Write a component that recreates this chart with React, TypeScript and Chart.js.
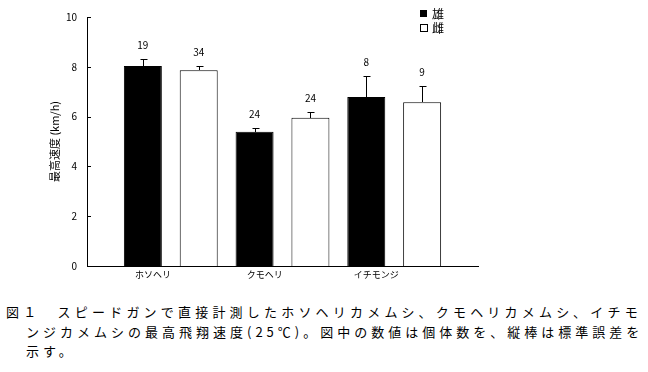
import React, { useEffect, useRef } from "react";
import { Chart, registerables } from "chart.js";

Chart.register(...registerables);

// ---- data ----
const categories = ["ホソヘリ", "クモヘリ", "イチモンジ"];
const seriesLabels = ["雄", "雌"];
const maleSpeed = [8.03, 5.39, 6.79];
const maleSE = [0.27, 0.16, 0.83];
const maleN = [19, 24, 8];
const femaleSpeed = [7.86, 5.95, 6.58];
const femaleSE = [0.16, 0.23, 0.64];
const femaleN = [34, 24, 9];
const yMin = 0;
const yMax = 10;
const yStep = 2;
const yTitle = "最高速度 (km/h)";
const captionLines = [
  "図１　スピードガンで直接計測したホソヘリカメムシ、クモヘリカメムシ、イチモ",
  "ンジカメムシの最高飛翔速度(25℃)。図中の数値は個体数を、縦棒は標準誤差を",
  "示す。",
];

const FONT = "'Noto Sans CJK JP', 'Noto Sans', sans-serif";
const seErrors = [maleSE, femaleSE];
const counts = [maleN, femaleN];

const overlayPlugin = {
  id: "overlay",
  afterDatasetsDraw(chart: any) {
    const ctx = chart.ctx;
    const yScale = chart.scales.y;
    const area = chart.chartArea;
    ctx.save();
    ctx.strokeStyle = "#000";
    ctx.fillStyle = "#000";
    ctx.lineWidth = 1;
    // error bars + counts
    chart.data.datasets.forEach((ds: any, di: number) => {
      const meta = chart.getDatasetMeta(di);
      meta.data.forEach((bar: any, i: number) => {
        const v = ds.data[i].y;
        const top = Math.round(yScale.getPixelForValue(v + seErrors[di][i])) + 0.5;
        const base = Math.round(bar.y);
        const x = Math.round(bar.x) + 0.5;
        ctx.beginPath();
        ctx.moveTo(x, base);
        ctx.lineTo(x, top);
        ctx.moveTo(x - 3, top);
        ctx.lineTo(x + 4, top);
        ctx.stroke();
        ctx.font = `10px ${FONT}`;
        ctx.textAlign = "center";
        ctx.textBaseline = "middle";
        ctx.fillText(String(counts[di][i]), bar.x, top - 14);
      });
    });
    // inner y tick marks
    yScale.ticks.forEach((t: any) => {
      const py = Math.round(yScale.getPixelForValue(t.value)) + 0.5;
      ctx.beginPath();
      ctx.moveTo(area.left, py);
      ctx.lineTo(area.left + 4, py);
      ctx.stroke();
    });
    // legend
    const lx = 420;
    const ly = [10, 24];
    chart.data.datasets.forEach((ds: any, di: number) => {
      const y0 = ly[di];
      if (di === 0) {
        ctx.fillStyle = ds.backgroundColor;
        ctx.fillRect(lx, y0, 7, 7);
      } else {
        ctx.fillStyle = "#fff";
        ctx.fillRect(lx, y0, 7, 7);
        ctx.strokeStyle = "#000";
        ctx.strokeRect(lx + 0.5, y0 + 0.5, 7, 7);
      }
      ctx.fillStyle = "#000";
      ctx.font = `12px ${FONT}`;
      ctx.textAlign = "left";
      ctx.textBaseline = "middle";
      ctx.fillText(ds.label, lx + 12, y0 + 4);
    });
    ctx.restore();
  },
};

export default function App() {
  const ref = useRef<HTMLCanvasElement | null>(null);

  useEffect(() => {
    if (!ref.current) return;
    const labelShift = -0.16;
    const chart = new Chart(ref.current, {
      type: "bar",
      data: {
        datasets: [
          {
            label: seriesLabels[0],
            data: maleSpeed.map((v, i) => ({ x: i, y: v })),
            backgroundColor: "#000",
            borderColor: "#000",
            borderWidth: 1,
          },
          {
            label: seriesLabels[1],
            data: femaleSpeed.map((v, i) => ({ x: i, y: v })),
            backgroundColor: "#fff",
            borderColor: "#000",
            borderWidth: 1,
          },
        ],
      },
      options: {
        responsive: false,
        animation: false,
        devicePixelRatio: 1,
        categoryPercentage: 1.0,
        barPercentage: 0.68,
        layout: { padding: { top: 17, right: 170, left: 0, bottom: 0 } },
        plugins: {
          legend: { display: false },
          tooltip: { enabled: false },
        },
        scales: {
          x: {
            type: "linear",
            min: -0.75,
            max: 2.75,
            offset: false,
            grid: { display: false, drawTicks: false },
            border: { display: true, color: "#000", width: 1 },
            afterBuildTicks: (s: any) => {
              s.ticks = categories.map((_, i) => ({ value: i + labelShift }));
            },
            afterFit: (s: any) => {
              s.height = 24;
            },
            ticks: {
              color: "#000",
              font: { family: FONT, size: 9 },
              padding: 3,
              maxRotation: 0,
              autoSkip: false,
              callback: (_v: any, idx: number) => categories[idx],
            },
          },
          y: {
            min: yMin,
            max: yMax,
            grid: { display: false, drawTicks: false },
            border: { display: true, color: "#000", width: 1 },
            afterFit: (s: any) => {
              s.width = 87;
            },
            ticks: {
              stepSize: yStep,
              color: "#000",
              font: { family: FONT, size: 10 },
              padding: 10,
            },
            title: {
              display: true,
              text: yTitle,
              color: "#000",
              font: { family: FONT, size: 11 },
              padding: { top: 48, bottom: 0 },
            },
          },
        },
      },
      plugins: [overlayPlugin],
    } as any);
    return () => chart.destroy();
  }, []);

  const lineStyle = (top: number, left: number, ls: number): React.CSSProperties => ({
    position: "absolute",
    top,
    left,
    fontFamily: FONT,
    fontSize: 13,
    lineHeight: "20px",
    letterSpacing: ls,
    whiteSpace: "nowrap",
    color: "#000",
  });

  return (
    <div
      style={{
        position: "absolute",
        left: 0,
        top: 0,
        width: 648,
        height: 372,
        background: "#fff",
        overflow: "hidden",
      }}
    >
      <canvas ref={ref} width={648} height={290} style={{ position: "absolute", left: 0, top: 0 }} />
      <div style={lineStyle(302, 6, 4.2)}>{captionLines[0]}</div>
      <div style={lineStyle(322, 26, 4.0)}>{captionLines[1]}</div>
      <div style={lineStyle(341, 26, 4.0)}>{captionLines[2]}</div>
    </div>
  );
}
